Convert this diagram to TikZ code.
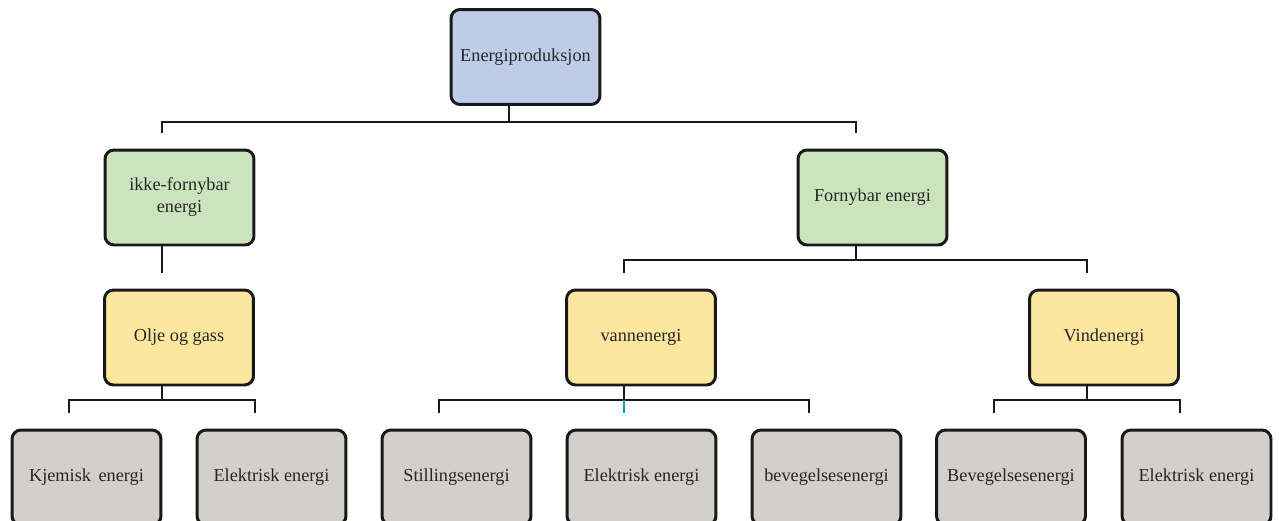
\documentclass[tikz,border=0pt]{standalone}
\usepackage{fontspec}
\setmainfont{Liberation Serif}

\definecolor{rootblue}{RGB}{190,204,234}
\definecolor{kindgreen}{RGB}{204,228,190}
\definecolor{srcyellow}{RGB}{253,231,160}
\definecolor{formgray}{RGB}{211,207,203}
\definecolor{tealmark}{RGB}{0,160,176}

\begin{document}
\begin{tikzpicture}[x = 0.02cm, y = -0.02cm,
		box/.style = {draw = black!90, line width = 1.7pt, rounded corners = 0.18cm,
			minimum width = 2.98cm, minimum height = 1.9cm, inner sep = 2pt,
			align = center, text = black!85, font = \fontsize{10.4}{12.5}\selectfont},
		link/.style = {draw = black!90, line width = 1.4pt}]
		\clip (0, 0) rectangle (1279, 521);

		\node[box, fill = rootblue] (root) at (525.5, 57) {Energiproduksjon};

		\node[box, fill = kindgreen] (ikke) at (179.5, 197.5) {ikke-fornybar\\energi};
		\node[box, fill = kindgreen] (forn) at (872.5, 197.5) {Fornybar energi};

		\node[box, fill = srcyellow] (olje) at (179, 337.5) {Olje og gass};
		\node[box, fill = srcyellow] (vann) at (641, 337.5) {vannenergi};
		\node[box, fill = srcyellow] (vind) at (1104, 337.5) {Vindenergi};

		\node[box, fill = formgray] (kjem) at (86.5, 477.5) {Kjemisk\, energi};
		\node[box, fill = formgray] (elekA) at (271.5, 477.5) {Elektrisk energi};
		\node[box, fill = formgray] (still) at (456.5, 477.5) {Stillingsenergi};
		\node[box, fill = formgray] (elekB) at (641.5, 477.5) {Elektrisk energi};
		\node[box, fill = formgray] (beveA) at (826.5, 477.5) {bevegelsesenergi};
		\node[box, fill = formgray] (beveB) at (1011, 477.5) {Bevegelsesenergi};
		\node[box, fill = formgray] (elekC) at (1196.5, 477.5) {Elektrisk energi};

		% junctions and bar ends
		\coordinate (j0) at (509, 122);
		\coordinate (j0l) at (162, 133);
		\coordinate (j0r) at (856, 133);
		\coordinate (jIkke) at (162, 273);
		\coordinate (j1) at (856, 260);
		\coordinate (j1l) at (624, 273);
		\coordinate (j1r) at (1087, 273);
		\coordinate (j2) at (162, 400);
		\coordinate (j2l) at (69, 413);
		\coordinate (j2r) at (255, 413);
		\coordinate (j3) at (624, 400);
		\coordinate (j3l) at (439, 413);
		\coordinate (j3m) at (624, 413);
		\coordinate (j3r) at (809, 413);
		\coordinate (j4) at (1087, 400);
		\coordinate (j4l) at (994, 413);
		\coordinate (j4r) at (1180, 413);

		% edges
		\draw[link] (root.south -| j0) -- (j0);
		\draw[link] (j0l) |- (j0) -| (j0r);
		\draw[link] (ikke.south -| jIkke) -- (jIkke);
		\draw[link] (forn.south -| j1) -- (j1);
		\draw[link] (j1l) |- (j1) -| (j1r);
		\draw[link] (olje.south -| j2) -- (j2);
		\draw[link] (j2l) |- (j2) -| (j2r);
		\draw[link] (vann.south -| j3) -- (j3);
		\draw[link] (j3l) |- (j3) -| (j3r);
		\draw[line width = 1.4pt, tealmark] (j3) -- (j3m);
		\draw[link] (vind.south -| j4) -- (j4);
		\draw[link] (j4l) |- (j4) -| (j4r);

		\end{tikzpicture}
\end{document}
